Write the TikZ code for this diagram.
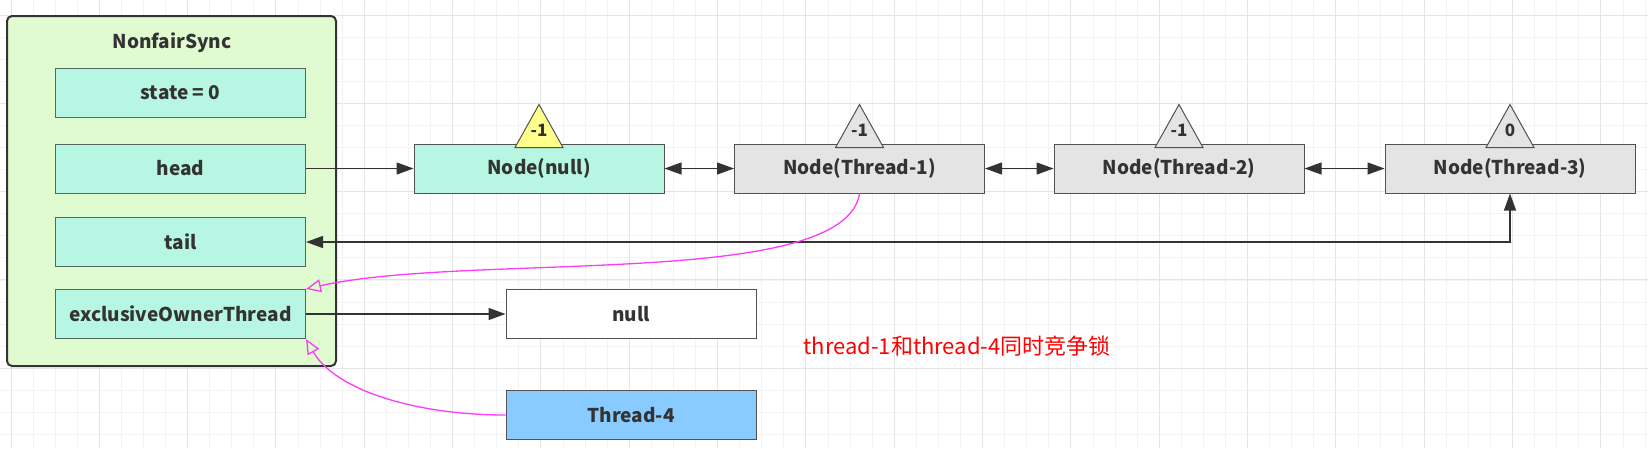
\documentclass[tikz,border=0pt]{standalone}
\usepackage{fontspec}
\setmainfont{Noto Sans CJK SC}
\usetikzlibrary{calc}
\usetikzlibrary{arrows.meta}

\definecolor{syncgreen}{RGB}{224,251,208}
\definecolor{mint}{RGB}{183,246,226}
\definecolor{mintline}{RGB}{85,104,96}
\definecolor{nodegray}{RGB}{228,228,228}
\definecolor{triyellow}{RGB}{255,255,140}
\definecolor{threadblue}{RGB}{137,203,254}
\definecolor{pinkline}{RGB}{250,60,250}
\definecolor{darkline}{RGB}{51,51,51}
\definecolor{gridminor}{RGB}{243,243,243}
\definecolor{gridmajor}{RGB}{229,229,229}

\tikzset{
  field/.style={draw=mintline, fill=mint, line width=1pt, minimum width=250pt, minimum height=49pt,
    inner sep=0pt, text=darkline, font=\bfseries\fontsize{19}{22}\selectfont},
  qnode/.style={field, draw=darkline!85, fill=nodegray},
  plainbox/.style={field, draw=darkline!85, fill=white},
  link/.style={draw=darkline, line width=1.3pt, -{Triangle[length=17pt,width=12pt]}},
  dlink/.style={link, {Triangle[length=17pt,width=12pt]}-{Triangle[length=17pt,width=12pt]}},
  race/.style={draw=pinkline, line width=1.3pt, -{Triangle[open,length=15pt,width=13pt]}},
  waitmark/.style={draw=darkline!85, line width=1pt},
}

% triangle with the waitStatus above a queue node
\newcommand{\waitsign}[3]{
  \draw[waitmark, fill=#2] ($(#1.north)+(-24,4)$) -- ($(#1.north)+(0,-39)$) -- ($(#1.north)+(24,4)$) -- cycle;
  \node[text=darkline, font=\bfseries\fontsize{17}{20}\selectfont] (#1w) at ($(#1.north)+(0,-13)$) {#3};
}

\begin{document}
\begin{tikzpicture}[x=1pt, y=-1pt]
\useasboundingbox (0,0) rectangle (1648,448);

% background grid
\foreach \i in {0,...,74}
  \draw[gridminor, line width=1pt] ({11+22.083*\i},0) -- ({11+22.083*\i},448);
\foreach \j in {0,...,19}
  \draw[gridminor, line width=1pt] (0,{15+22.083*\j}) -- (1648,{15+22.083*\j});
\foreach \i in {0,...,18}
  \draw[gridmajor, line width=1pt] ({11+88.33*\i},0) -- ({11+88.33*\i},448);
\foreach \j in {0,...,4}
  \draw[gridmajor, line width=1pt] (0,{15+88.33*\j}) -- (1648,{15+88.33*\j});

% NonfairSync
\node[draw=darkline, fill=syncgreen, line width=2pt, rounded corners=5pt,
  minimum width=329pt, minimum height=350pt] (sync) at (171.5,191) {};
\node[text=darkline, font=\bfseries\fontsize{19}{22}\selectfont] (title) at (172,43) {NonfairSync};
\node[field] (state) at (180.5,92.5) {state = 0};
\node[field] (head) at (180.5,168.5) {head};
\node[field] (tail) at (180.5,242) {tail};
\node[field] (owner) at (180.5,314) {exclusiveOwnerThread};

% wait queue
\node[field, draw=darkline!85] (n0) at (539,168.5) {Node(null)};
\node[qnode] (n1) at (859.5,168.5) {Node(Thread-1)};
\node[qnode] (n2) at (1179,168.5) {Node(Thread-2)};
\node[qnode] (n3) at (1510,168.5) {Node(Thread-3)};
\waitsign{n0}{triyellow}{-1}
\waitsign{n1}{nodegray}{-1}
\waitsign{n2}{nodegray}{-1}
\waitsign{n3}{nodegray}{0}

\node[plainbox] (none) at (631,314) {null};
\node[field, draw=darkline!85, fill=threadblue] (t4) at (631,415) {Thread-4};
\node[text=red, font=\fontsize{22}{26}\selectfont] (note) at (957,346) {thread-1和thread-4同时竞争锁};

\draw[link] (head) -- (n0);
\draw[dlink] (n0) -- (n1);
\draw[dlink] (n1) -- (n2);
\draw[dlink] (n2) -- (n3);
\draw[dlink] (tail.east) -| (n3.south);
\draw[link] (owner) -- (none);
\draw[race] (n1.south) .. controls (845,290) and (470,252) .. (owner.north east);
\draw[race] (t4.west) .. controls (415,415) and (335,390) .. (owner.south east);
\end{tikzpicture}
\end{document}
